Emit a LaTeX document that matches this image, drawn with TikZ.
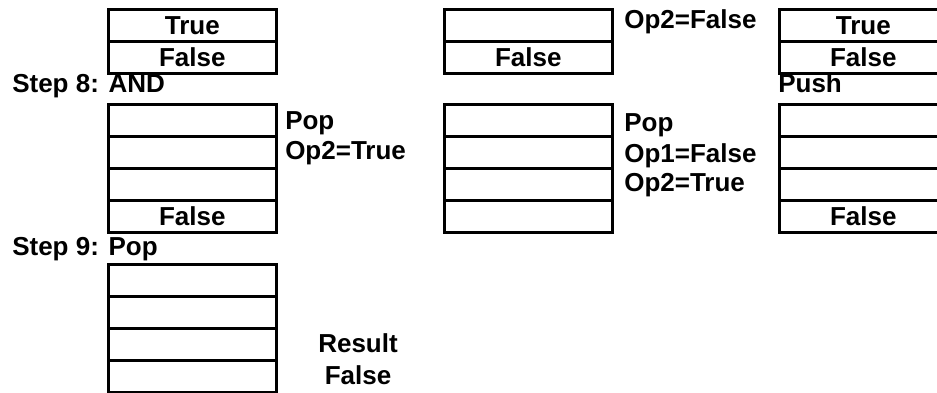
\documentclass[tikz,border=0pt]{standalone}
\usepackage{fontspec}
\setmainfont{Liberation Sans}
\begin{document}
\begin{tikzpicture}[x=0.75pt,y=-0.75pt,
  every node/.style={font=\fontsize{19.5}{23}\selectfont\bfseries},
  cell/.style={draw,line width=1.9pt,minimum width=126pt,minimum height=24pt,
    inner sep=0pt,anchor=north west,text height=13.5pt,text depth=0pt},
  lbl/.style={anchor=base west,inner sep=0pt}]
\useasboundingbox (0,0) rectangle (937,392);
\begin{scope}
\clip (0,0) rectangle (937,392);
% top row
\node[cell] (a1) at (107,8) {True};
\node[cell] (a2) at (107,40) {False};
\node[cell] (b1) at (443,8) {};
\node[cell] (b2) at (443,40) {False};
\node[cell] (r1) at (778,8) {True};
\node[cell] (r2) at (778,40) {False};
% labels
\node[lbl] (s8) at (12,93) {Step 8: AND};
\node[lbl] (op2f) at (624,29) {Op2=False};
\node[lbl] (push) at (778,93) {Push};
% second row
\node[cell] (c1) at (107,103) {};
\node[cell] (c2) at (107,135) {};
\node[cell] (c3) at (107,167) {};
\node[cell] (c4) at (107,199) {False};
\node[cell] (d1) at (443,103) {};
\node[cell] (d2) at (443,135) {};
\node[cell] (d3) at (443,167) {};
\node[cell] (d4) at (443,199) {};
\node[cell] (e1) at (778,103) {};
\node[cell] (e2) at (778,135) {};
\node[cell] (e3) at (778,167) {};
\node[cell] (e4) at (778,199) {False};
\node[lbl] (pop1) at (285,129) {Pop};
\node[lbl] (op2t1) at (285,159) {Op2=True};
\node[lbl] (pop2) at (624,132) {Pop};
\node[lbl] (op1f) at (624,162) {Op1=False};
\node[lbl] (op2t2) at (624,191) {Op2=True};
% third row
\node[lbl] (s9) at (12,255) {Step 9: Pop};
\node[cell] (f1) at (107,263) {};
\node[cell] (f2) at (107,295) {};
\node[cell] (f3) at (107,327) {};
\node[cell] (f4) at (107,359) {};
\node[anchor=base,inner sep=0pt] (res) at (358,352) {Result};
\node[anchor=base,inner sep=0pt] (resf) at (358,384) {False};
\end{scope}
\end{tikzpicture}
\end{document}
